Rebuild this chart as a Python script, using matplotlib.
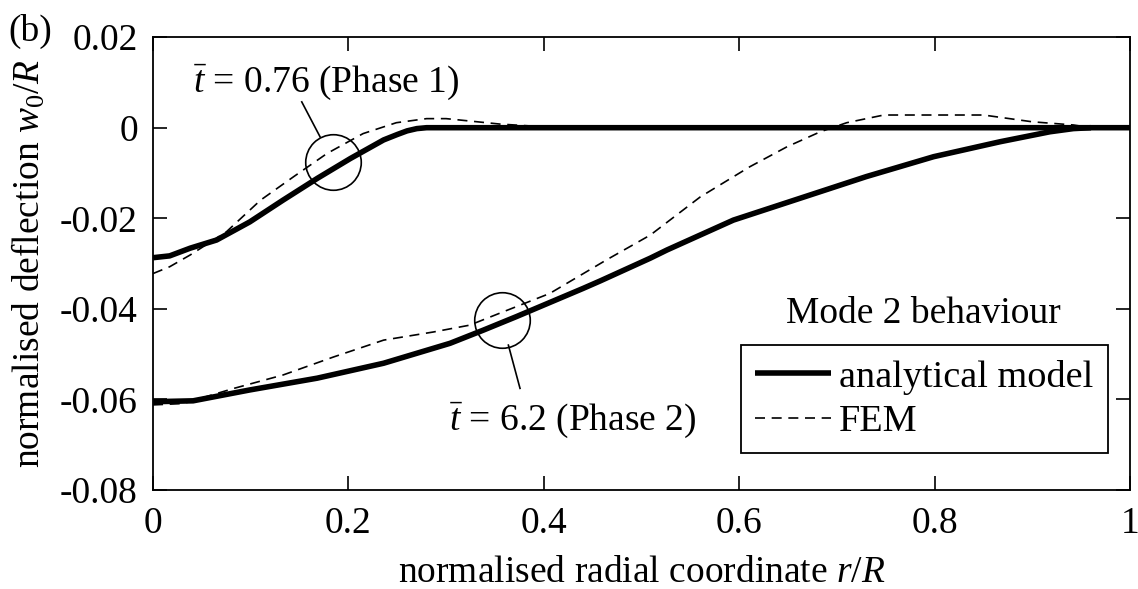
import matplotlib
matplotlib.use('Agg')
import matplotlib.pyplot as plt
from matplotlib import rcParams

rcParams['font.family'] = 'Liberation Serif'
rcParams['mathtext.fontset'] = 'custom'
rcParams['mathtext.rm'] = 'Liberation Serif'
rcParams['mathtext.it'] = 'Liberation Serif:italic'
rcParams['mathtext.bf'] = 'Liberation Serif:bold'
rcParams['axes.unicode_minus'] = False
FONT_SIZE = 27

# phase 1, t = 0.76
r1_ana = [0, 0.017, 0.038, 0.065, 0.099, 0.133, 0.168, 0.202, 0.236, 0.25, 0.26, 0.27, 0.28, 1.0]
w1_ana = [-0.0287, -0.0283, -0.0266, -0.0248, -0.0208, -0.016, -0.0112, -0.0068, -0.0027,
          -0.0015, -0.0007, -0.0002, 0, 0]
r1_fem = [0, 0.017, 0.038, 0.075, 0.11, 0.144, 0.178, 0.215, 0.249, 0.28, 0.30, 0.355, 0.40, 0.42, 1.0]
w1_fem = [-0.0322, -0.0307, -0.0281, -0.023, -0.016, -0.0108, -0.0057, -0.0013, 0.0011,
          0.002, 0.002, 0.0008, 0.0002, 0, 0]

# phase 2, t = 6.2
r2_ana = [0, 0.041, 0.099, 0.168, 0.236, 0.304, 0.338, 0.372, 0.44, 0.458, 0.509, 0.526,
          0.594, 0.662, 0.73, 0.799, 0.867, 0.918, 0.942, 0.96]
w2_ana = [-0.0605, -0.0603, -0.0579, -0.0553, -0.052, -0.0476, -0.0447, -0.0417, -0.0355,
          -0.0338, -0.0288, -0.027, -0.0204, -0.0156, -0.0108, -0.0064, -0.0031, -0.0009,
          -0.0002, 0]
r2_fem = [0, 0.031, 0.082, 0.133, 0.185, 0.236, 0.287, 0.324, 0.359, 0.406, 0.464, 0.509,
          0.56, 0.611, 0.649, 0.683, 0.71, 0.748, 0.85, 0.90, 0.942, 0.96, 1.0]
w2_fem = [-0.0612, -0.0609, -0.0576, -0.0546, -0.0506, -0.0469, -0.0451, -0.0436, -0.0406,
          -0.0366, -0.0292, -0.0237, -0.0153, -0.0086, -0.0042, -0.0009, 0.0011, 0.0028,
          0.0028, 0.0013, 0.0006, 0, 0]

x_ticks = [0, 0.2, 0.4, 0.6, 0.8, 1]
x_tick_labels = ['0', '0.2', '0.4', '0.6', '0.8', '1']
y_ticks = [-0.08, -0.06, -0.04, -0.02, 0, 0.02]
y_tick_labels = ['-0.08', '-0.06', '-0.04', '-0.02', '0', '0.02']

fig = plt.figure(figsize=(11.38, 5.89), dpi=100)
ax = fig.add_axes([0.1345, 0.168, 0.8585, 0.769])

ax.plot(r1_ana, w1_ana, color='k', lw=4, solid_capstyle='butt', label='analytical model')
ax.plot(r2_ana, w2_ana, color='k', lw=4, solid_capstyle='butt')
ax.plot(r1_fem, w1_fem, color='k', lw=1.2, ls=(0, (6, 4)), label='FEM')
ax.plot(r2_fem, w2_fem, color='k', lw=1.2, ls=(0, (6, 4)))

# circles and leader lines
ax.plot([0.184], [-0.0075], 'o', ms=40, mfc='none', mec='k', mew=1.2)
ax.plot([0.357], [-0.0425], 'o', ms=40, mfc='none', mec='k', mew=1.2)
ax.plot([0.1522, 0.1709], [0.0057, -0.0020], color='k', lw=1.2)
ax.plot([0.3637, 0.3756], [-0.048, -0.05755], color='k', lw=1.2)
ax.text(0.1776, 0.0101, r'$\bar{t}$ = 0.76 (Phase 1)', fontsize=FONT_SIZE, ha='center', va='center')
ax.text(0.4295, -0.0646, r'$\bar{t}$ = 6.2 (Phase 2)', fontsize=FONT_SIZE, ha='center', va='center')
ax.text(0.7885, 0.3687, 'Mode 2 behaviour', fontsize=FONT_SIZE, ha='center', va='baseline',
        transform=ax.transAxes)

ax.set_xlim(0, 1)
ax.set_ylim(-0.08, 0.02)
ax.set_xticks(x_ticks)
ax.set_xticklabels(x_tick_labels)
ax.set_yticks(y_ticks)
ax.set_yticklabels(y_tick_labels)
ax.tick_params(direction='in', top=True, right=True, length=10, width=1.2, labelsize=FONT_SIZE)
ax.tick_params(axis='x', pad=11.5)
ax.tick_params(axis='y', pad=11)
for s in ax.spines.values():
    s.set_linewidth(1.3)

ax.set_xlabel('normalised radial coordinate $r/R$', fontsize=FONT_SIZE, labelpad=11)
ax.set_ylabel('normalised deflection $w_0/R$', fontsize=FONT_SIZE)
ax.yaxis.set_label_coords(-0.108, 0.5)

leg = ax.legend(loc='upper left', bbox_to_anchor=(0.6015, 0.320), borderaxespad=0,
                fontsize=27.5, handlelength=1.98, handletextpad=0.22, borderpad=0.38,
                labelspacing=0.25, fancybox=False, edgecolor='k', framealpha=1)
leg.get_frame().set_linewidth(1.3)

fig.text(0.007, 0.947, '(b)', fontsize=FONT_SIZE, ha='left', va='center')

fig.savefig('out.png', dpi=100)
